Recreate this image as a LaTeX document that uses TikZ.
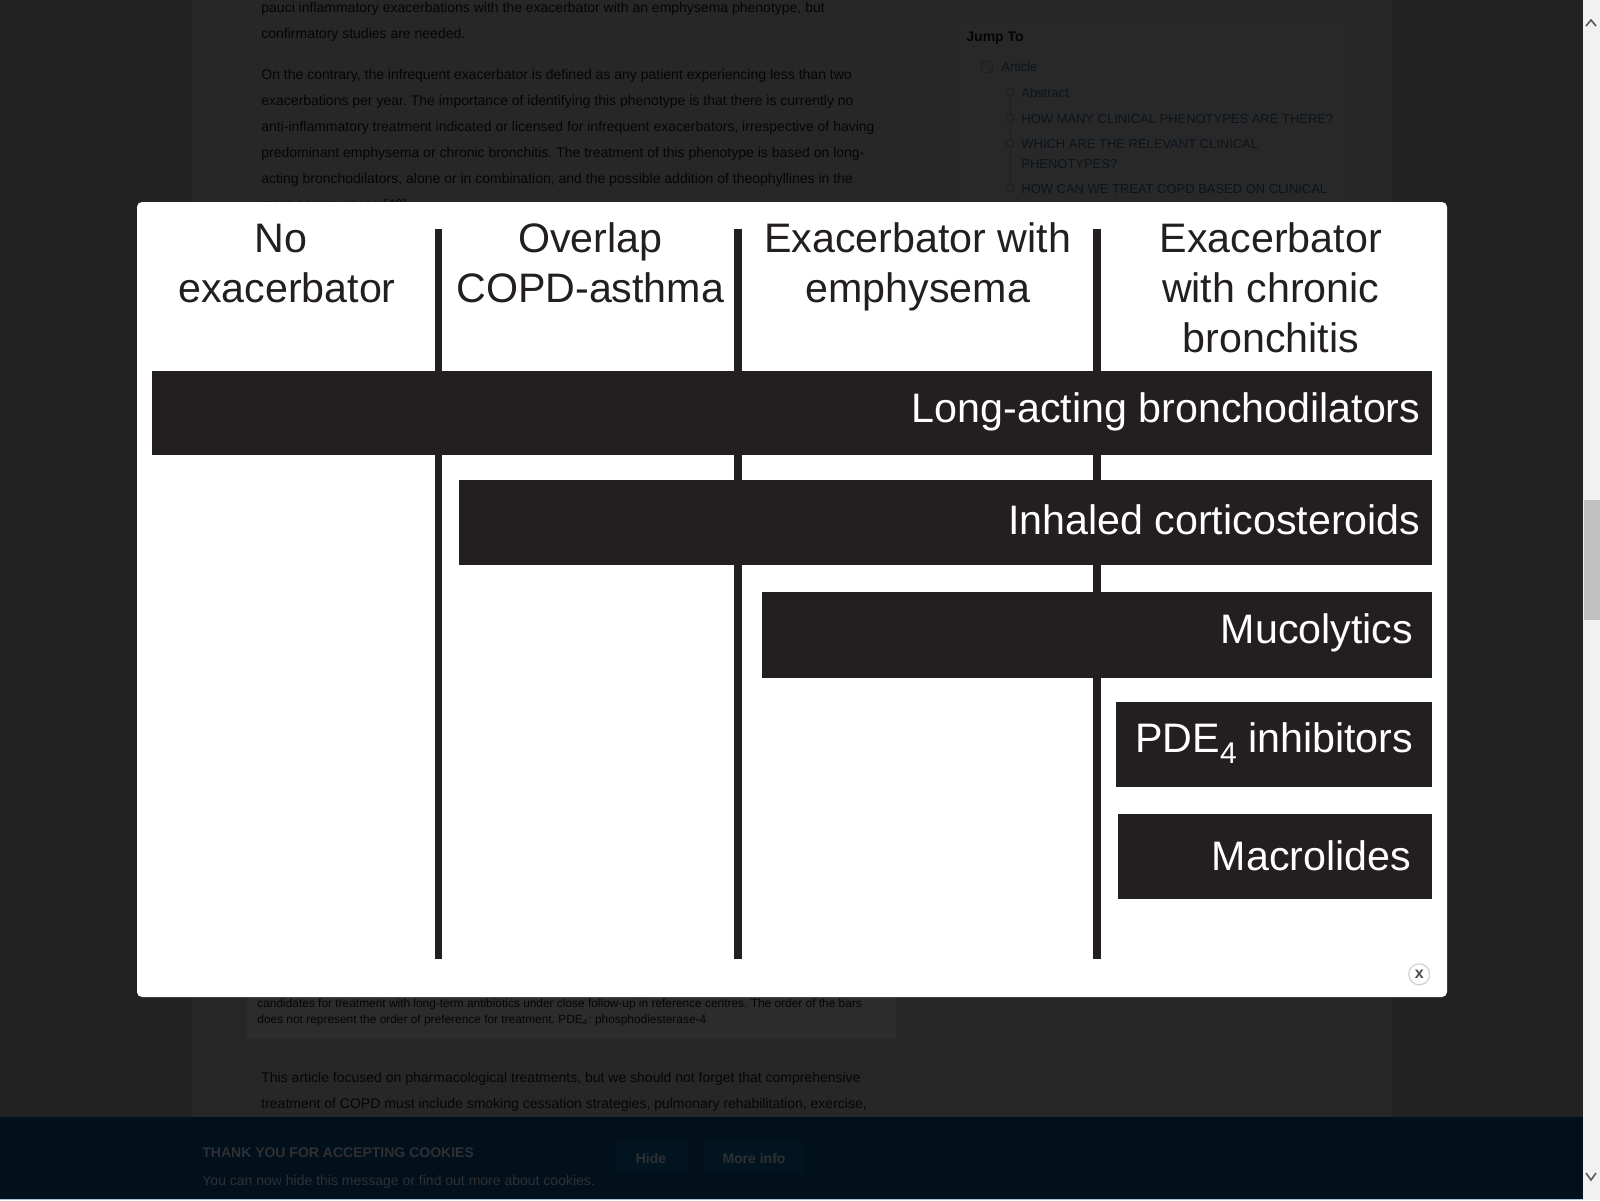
\documentclass[tikz,border=0pt]{standalone}
\usepackage{fontspec}
\setmainfont{Liberation Sans}
\definecolor{pageside}{HTML}{222222}
\definecolor{pagemid}{HTML}{272727}
\definecolor{capbox}{HTML}{2C2C2C}
\definecolor{sidebox}{HTML}{282828}
\definecolor{cookiebar}{HTML}{01101A}
\definecolor{ink}{HTML}{231F20}
\definecolor{bodyink}{HTML}{050505}
\definecolor{linkink}{HTML}{0B141C}
\definecolor{ringink}{HTML}{1D1D1D}
\definecolor{cookieink}{HTML}{2E3034}
\definecolor{cookiebtn}{HTML}{02141F}
\definecolor{scrollbg}{HTML}{F1F1F1}
\definecolor{scrollthumb}{HTML}{C1C1C1}
\definecolor{taskbar}{HTML}{A9C4D8}
\tikzset{
  bodytext/.style={anchor=base west, inner sep=0pt, text=bodyink, font=\frenchspacing\fontsize{7}{8}\selectfont},
  captext/.style={anchor=base west, inner sep=0pt, text=bodyink, font=\frenchspacing\fontsize{5.95}{7}\selectfont},
  linktext/.style={anchor=base west, inner sep=0pt, text=linkink, font=\fontsize{6.48}{8}\selectfont},
  cookietext/.style={anchor=base west, inner sep=0pt, text=cookieink, font=\fontsize{7}{8}\selectfont},
  bullet/.style={circle, draw=ringink, line width=0.4pt, minimum size=4pt, inner sep=0pt},
  headtext/.style={anchor=north, inner sep=0pt, align=center, text=ink, font=\fontsize{20.6}{25}\selectfont},
  treatbar/.style={anchor=north west, inner sep=0pt, fill=ink},
  bartext/.style={anchor=base east, inner sep=0pt, text=white, font=\fontsize{20.6}{25}\selectfont},
  divider/.style={draw=ink, line width=3.8pt},
  cookiebtnbox/.style={fill=cookiebtn, inner sep=0pt, minimum height=16pt, text=cookieink, font=\bfseries\fontsize{7}{8}\selectfont},
}
\begin{document}
\begin{tikzpicture}[x=0.5pt, y=-0.5pt]
  \useasboundingbox (0,0) rectangle (1600,1200);
  \clip (0,0) rectangle (1600,1200);
  % page behind the dialog
  \fill[pageside] (0,0) rectangle (1583,1200);
  \fill[pagemid] (192,0) rectangle (1392,1117);
  \fill[sidebox] (958,20) rectangle (1346,210);
  \fill[capbox] (247,960) rectangle (896,1039);
  \node (p1) [bodytext] at (261,12) {pauci inflammatory exacerbations with the exacerbator with an emphysema phenotype, but};
  \node (p2) [bodytext] at (261,38) {confirmatory studies are needed.};
  \node (p3) [bodytext] at (261,79) {On the contrary, the infrequent exacerbator is defined as any patient experiencing less than two};
  \node (p4) [bodytext] at (261,105) {exacerbations per year. The importance of identifying this phenotype is that there is currently no};
  \node (p5) [bodytext] at (261,131) {anti-inflammatory treatment indicated or licensed for infrequent exacerbators, irrespective of having};
  \node (p6) [bodytext] at (261,157) {predominant emphysema or chronic bronchitis. The treatment of this phenotype is based on long-};
  \node (p7) [bodytext] at (261,183) {acting bronchodilators, alone or in combination, and the possible addition of theophyllines in the};
  \node (p8) [bodytext] at (261,209) {more severe cases [40].};
  \node (c1) [captext] at (257,1007) {candidates for treatment with long-term antibiotics under close follow-up in reference centres. The order of the bars};
  \node (c2) [captext] at (257,1023) {does not represent the order of preference for treatment. PDE\textsubscript{4}: phosphodiesterase-4};
  \node (p9) [bodytext] at (261,1082) {This article focused on pharmacological treatments, but we should not forget that comprehensive};
  \node (p10) [bodytext] at (261,1108) {treatment of COPD must include smoking cessation strategies, pulmonary rehabilitation, exercise,};
  % side menu
  \node (jump) [linktext, text=bodyink, font=\bfseries\fontsize{7}{8}\selectfont] at (966,41) {Jump To};
  \node (b1) [bullet, minimum size=6pt] at (987,67) {};
  \node (b2) [bullet] at (1010,92) {};
  \node (b3) [bullet] at (1010,118) {};
  \node (b4) [bullet] at (1010,143) {};
  \node (b5) [bullet] at (1010,188) {};
  \foreach \source/\dest in {b2/b3, b3/b4, b4/b5}
    \path[draw=ringink!60!pagemid, line width=0.4pt] (\source) -- (\dest);
  \node (m1) [linktext] at (1001,71) {Article};
  \node (m2) [linktext] at (1021,97) {Abstract};
  \node (m3) [linktext] at (1021,123) {HOW MANY CLINICAL PHENOTYPES ARE THERE?};
  \node (m4) [linktext] at (1021,148) {WHICH ARE THE RELEVANT CLINICAL};
  \node (m5) [linktext] at (1021,168) {PHENOTYPES?};
  \node (m6) [linktext] at (1021,193) {HOW CAN WE TREAT COPD BASED ON CLINICAL};
  % cookie bar
  \fill[cookiebar] (0,1117) rectangle (1583,1200);
  \fill[taskbar] (0,1198.5) rectangle (1583,1200);
  \node (ck1) [cookietext, font=\bfseries\fontsize{7}{8}\selectfont] at (202,1157) {THANK YOU FOR ACCEPTING COOKIES};
  \node (ck2) [cookietext] at (202,1185) {You can now hide this message or find out more about cookies.};
  \node (hide) [cookiebtnbox, minimum width=36pt] at (651,1158) {Hide};
  \node (more) [cookiebtnbox, minimum width=51pt] at (754,1158) {More info};
  % scrollbar
  \fill[scrollbg] (1583,0) rectangle (1600,1200);
  \fill[scrollthumb] (1584,500) rectangle (1600,620);
  \coordinate (up1) at (1586,26);
  \coordinate (up2) at (1591,20);
  \coordinate (up3) at (1596,26);
  \coordinate (dn1) at (1586,1173);
  \coordinate (dn2) at (1591,1180);
  \coordinate (dn3) at (1596,1173);
  \draw[black!65, line width=0.8pt] (up1) -- (up2) -- (up3);
  \draw[black!65, line width=0.8pt] (dn1) -- (dn2) -- (dn3);
  % dialog
  \fill[white, rounded corners=2.5pt] (137,202) rectangle (1447,997);
  \coordinate (d1top) at (438.3,228.6);
  \coordinate (d1bot) at (438.3,958.5);
  \coordinate (d2top) at (737.8,228.6);
  \coordinate (d2bot) at (737.8,958.5);
  \coordinate (d3top) at (1097,228.6);
  \coordinate (d3bot) at (1097,958.5);
  \foreach \source/\dest in {d1top/d1bot, d2top/d2bot, d3top/d3bot}
    \path[divider] (\source) -- (\dest);
  \node (noexac) [headtext] at (286.9,224.2) {No\hspace*{6pt}\\exacerbator};
  \node (overlap) [headtext] at (590.2,222) {Overlap\\COPD-asthma};
  \node (emph) [headtext] at (917.8,222) {Exacerbator with\\emphysema};
  \node (chronic) [headtext] at (1270.8,222) {Exacerbator\\with chronic\\bronchitis};
  \node (longbar) [treatbar, minimum width=639.6pt, minimum height=42.3pt] at (152,370.2) {};
  \node (inhbar) [treatbar, minimum width=486.2pt, minimum height=42.5pt] at (459,479.6) {};
  \node (mucobar) [treatbar, minimum width=334.7pt, minimum height=42.7pt] at (762,592) {};
  \node (pdebar) [treatbar, minimum width=158pt, minimum height=42.4pt] at (1115.6,702) {};
  \node (macrobar) [treatbar, minimum width=156.8pt, minimum height=42.5pt] at (1118,814) {};
  \node (longlab) [bartext] at (1420.8,422.5) {Long-acting bronchodilators};
  \node (inhlab) [bartext] at (1420.8,534.5) {Inhaled corticosteroids};
  \node (mucolab) [bartext] at (1413.5,643.5) {Mucolytics};
  \node (pdelab) [bartext] at (1413.5,752) {PDE\raisebox{-5.5pt}{\fontsize{15}{15}\selectfont 4} inhibitors};
  \node (macrolab) [bartext] at (1411.5,870) {Macrolides};
  \node (closebtn) [circle, draw=black!18, line width=0.6pt, fill=white, minimum size=10.5pt, inner sep=0pt, text=black!70, font=\bfseries\fontsize{8}{8}\selectfont] at (1419.2,974.3) {x};
\end{tikzpicture}
\end{document}
